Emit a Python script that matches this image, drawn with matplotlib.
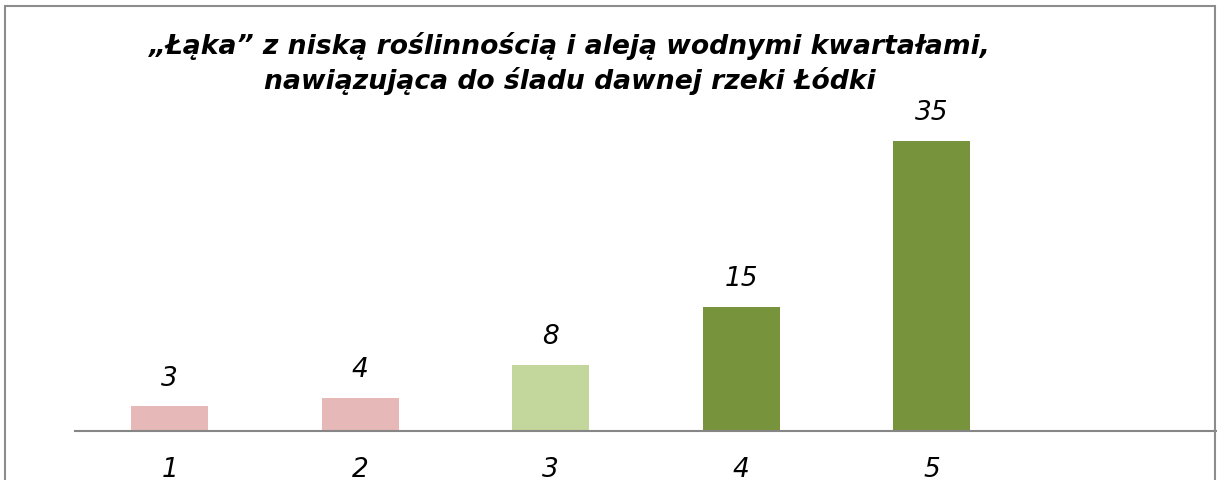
import matplotlib.pyplot as plt
from matplotlib.patches import Rectangle

# Data
categories = ['1', '2', '3', '4', '5']
values = [3, 4, 8, 15, 35]
colors = ['#E6B9B8', '#E6B9B8', '#C3D69B', '#77933C', '#77933C']
title = '\u201e\u0141\u0105ka\u201d z nisk\u0105 ro\u015blinno\u015bci\u0105 i alej\u0105 wodnymi kwarta\u0142ami,\nnawi\u0105zuj\u0105ca do \u015bladu dawnej rzeki \u0141\u00f3dki'

fig = plt.figure(figsize=(12.17, 4.8), dpi=100)
ax = fig.add_axes([74.5 / 1217, 49 / 480, 1143 / 1217, 332 / 480])

x = list(range(1, len(values) + 1))
ax.bar(x, values, width=0.404, color=colors)

for xi, v in zip(x, values):
    ax.annotate(str(v), (xi, v), xytext=(0, 10.5), textcoords='offset points',
                ha='center', va='bottom', fontsize=19, style='italic')

ax.set_xlim(0.5, 6.5)
ax.set_ylim(0, 40)
ax.set_xticks(x)
ax.set_xticklabels(categories, fontsize=19, style='italic')
ax.tick_params(axis='x', length=0, pad=19)
ax.set_yticks([])
for side in ['top', 'right', 'left']:
    ax.spines[side].set_visible(False)
ax.spines['bottom'].set_color('#868686')
ax.spines['bottom'].set_linewidth(1.5)

fig.text(570 / 1217, 1 - 63.5 / 480, title, ha='center', va='center',
         fontsize=19.2, fontweight='bold', style='italic', linespacing=1.28)

# outer chart border
fig.patches.append(Rectangle((4.5 / 1217, -0.05), 1210.5 / 1217, 1.05 - 5.5 / 480,
                             transform=fig.transFigure, fill=False,
                             edgecolor='#8C8C8C', linewidth=1.5))

fig.savefig('out.png', dpi=100)
